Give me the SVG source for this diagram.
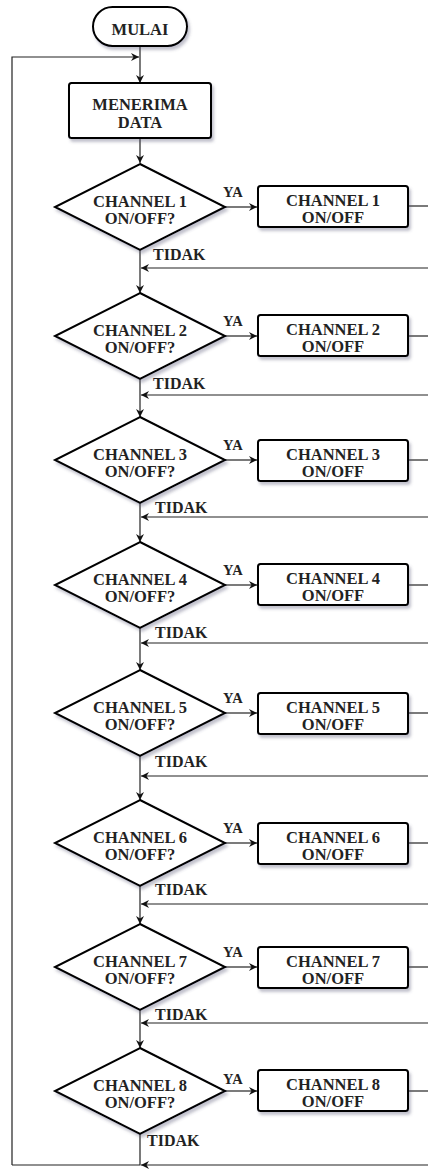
<svg xmlns="http://www.w3.org/2000/svg" width="428" height="1170" viewBox="0 0 428 1170">
<defs>
<filter id="sh" x="-10%" y="-10%" width="130%" height="140%">
<feDropShadow dx="2" dy="3" stdDeviation="1.5" flood-color="#505070" flood-opacity="0.35"/>
</filter>
<marker id="arr" markerUnits="userSpaceOnUse" markerWidth="10" markerHeight="9" refX="8" refY="4" orient="auto">
<path d="M0,0 L8,4 L0,8 L2.5,4 z" fill="#111"/>
</marker>
</defs>
<style>
.shape{fill:#fff;stroke:#000;stroke-width:2;filter:url(#sh)}
.t{font-family:"Liberation Serif","Times New Roman",serif;font-weight:bold;font-size:16.5px;fill:#222;text-anchor:middle}
.lbl{font-family:"Liberation Serif","Times New Roman",serif;font-weight:bold;font-size:16px;fill:#222}
.ya{font-family:"Liberation Serif","Times New Roman",serif;font-weight:bold;font-size:14.5px;fill:#222}
.c{fill:none;stroke:#222;stroke-width:1.2}
.ca{fill:none;stroke:#222;stroke-width:1.2;marker-end:url(#arr)}
</style>
<g id="connectors">
<path class="ca" d="M140,46 L140,83"/>
<path class="ca" d="M12,1165 L12,57 L139,57"/>
<path class="ca" d="M140,138 L140,163"/>
<path class="ca" d="M225,207 L257,207"/>
<path class="c" d="M408,206 L428,206"/>
<path class="ca" d="M428,268 L141,268"/>
<path class="ca" d="M140,250 L140,293"/>
<path class="ca" d="M225,336 L257,336"/>
<path class="c" d="M408,336 L428,336"/>
<path class="ca" d="M428,395 L141,395"/>
<path class="ca" d="M140,379 L140,417"/>
<path class="ca" d="M225,460 L257,460"/>
<path class="c" d="M408,460 L428,460"/>
<path class="ca" d="M428,517 L141,517"/>
<path class="ca" d="M140,503 L140,542"/>
<path class="ca" d="M225,585 L257,585"/>
<path class="c" d="M408,585 L428,585"/>
<path class="ca" d="M428,643 L141,643"/>
<path class="ca" d="M140,628 L140,670"/>
<path class="ca" d="M225,713 L257,713"/>
<path class="c" d="M408,713 L428,713"/>
<path class="ca" d="M428,776 L141,776"/>
<path class="ca" d="M140,756 L140,800"/>
<path class="ca" d="M225,843 L257,843"/>
<path class="c" d="M408,843 L428,843"/>
<path class="ca" d="M428,904 L141,904"/>
<path class="ca" d="M140,886 L140,924"/>
<path class="ca" d="M225,967 L257,967"/>
<path class="c" d="M408,967 L428,967"/>
<path class="ca" d="M428,1023 L141,1023"/>
<path class="ca" d="M140,1010 L140,1048"/>
<path class="ca" d="M225,1091 L257,1091"/>
<path class="c" d="M408,1091 L428,1091"/>
<path class="ca" d="M428,1165 L141,1165"/>
<path class="c" d="M140,1134 L140,1165 L12,1165"/>
</g>
<g id="mulai">
<rect class="shape" x="93" y="7" width="94" height="39" rx="19.5" ry="19.5"/>
<text class="t" x="140" y="35">MULAI</text>
</g>
<g id="menerima">
<rect class="shape" x="69" y="83" width="142" height="55" rx="2.5"/>
<text class="t" x="140" y="110">MENERIMA</text>
<text class="t" x="140" y="128">DATA</text>
</g>
<g id="dec1"><path class="shape" d="M140,164 L225,207 L140,250 L55,207 Z"/><text class="t" x="140" y="207">CHANNEL 1</text><text class="t" x="140" y="224">ON/OFF?</text><text class="ya" x="223" y="197">YA</text><text class="lbl" x="153" y="260">TIDAK</text></g>
<g id="box1"><rect class="shape" x="258" y="186" width="150" height="41" rx="2.5"/><text class="t" x="333" y="206">CHANNEL 1</text><text class="t" x="333" y="223">ON/OFF</text></g>
<g id="dec2"><path class="shape" d="M140,293 L225,336 L140,379 L55,336 Z"/><text class="t" x="140" y="336">CHANNEL 2</text><text class="t" x="140" y="353">ON/OFF?</text><text class="ya" x="223" y="326">YA</text><text class="lbl" x="153" y="389">TIDAK</text></g>
<g id="box2"><rect class="shape" x="258" y="315" width="150" height="41" rx="2.5"/><text class="t" x="333" y="335">CHANNEL 2</text><text class="t" x="333" y="352">ON/OFF</text></g>
<g id="dec3"><path class="shape" d="M140,417 L225,460 L140,503 L55,460 Z"/><text class="t" x="140" y="460">CHANNEL 3</text><text class="t" x="140" y="477">ON/OFF?</text><text class="ya" x="223" y="450">YA</text><text class="lbl" x="155" y="513">TIDAK</text></g>
<g id="box3"><rect class="shape" x="258" y="440" width="150" height="41" rx="2.5"/><text class="t" x="333" y="460">CHANNEL 3</text><text class="t" x="333" y="477">ON/OFF</text></g>
<g id="dec4"><path class="shape" d="M140,542 L225,585 L140,628 L55,585 Z"/><text class="t" x="140" y="585">CHANNEL 4</text><text class="t" x="140" y="602">ON/OFF?</text><text class="ya" x="223" y="575">YA</text><text class="lbl" x="155" y="638">TIDAK</text></g>
<g id="box4"><rect class="shape" x="258" y="564" width="150" height="41" rx="2.5"/><text class="t" x="333" y="584">CHANNEL 4</text><text class="t" x="333" y="601">ON/OFF</text></g>
<g id="dec5"><path class="shape" d="M140,670 L225,713 L140,756 L55,713 Z"/><text class="t" x="140" y="713">CHANNEL 5</text><text class="t" x="140" y="730">ON/OFF?</text><text class="ya" x="223" y="703">YA</text><text class="lbl" x="155" y="767">TIDAK</text></g>
<g id="box5"><rect class="shape" x="258" y="693" width="150" height="41" rx="2.5"/><text class="t" x="333" y="713">CHANNEL 5</text><text class="t" x="333" y="730">ON/OFF</text></g>
<g id="dec6"><path class="shape" d="M140,800 L225,843 L140,886 L55,843 Z"/><text class="t" x="140" y="843">CHANNEL 6</text><text class="t" x="140" y="860">ON/OFF?</text><text class="ya" x="223" y="833">YA</text><text class="lbl" x="155" y="895">TIDAK</text></g>
<g id="box6"><rect class="shape" x="258" y="823" width="150" height="41" rx="2.5"/><text class="t" x="333" y="843">CHANNEL 6</text><text class="t" x="333" y="860">ON/OFF</text></g>
<g id="dec7"><path class="shape" d="M140,924 L225,967 L140,1010 L55,967 Z"/><text class="t" x="140" y="967">CHANNEL 7</text><text class="t" x="140" y="984">ON/OFF?</text><text class="ya" x="223" y="957">YA</text><text class="lbl" x="155" y="1020">TIDAK</text></g>
<g id="box7"><rect class="shape" x="258" y="947" width="150" height="41" rx="2.5"/><text class="t" x="333" y="967">CHANNEL 7</text><text class="t" x="333" y="984">ON/OFF</text></g>
<g id="dec8"><path class="shape" d="M140,1048 L225,1091 L140,1134 L55,1091 Z"/><text class="t" x="140" y="1091">CHANNEL 8</text><text class="t" x="140" y="1108">ON/OFF?</text><text class="ya" x="223" y="1084">YA</text><text class="lbl" x="147" y="1146">TIDAK</text></g>
<g id="box8"><rect class="shape" x="258" y="1070" width="150" height="41" rx="2.5"/><text class="t" x="333" y="1090">CHANNEL 8</text><text class="t" x="333" y="1107">ON/OFF</text></g>
</svg>
